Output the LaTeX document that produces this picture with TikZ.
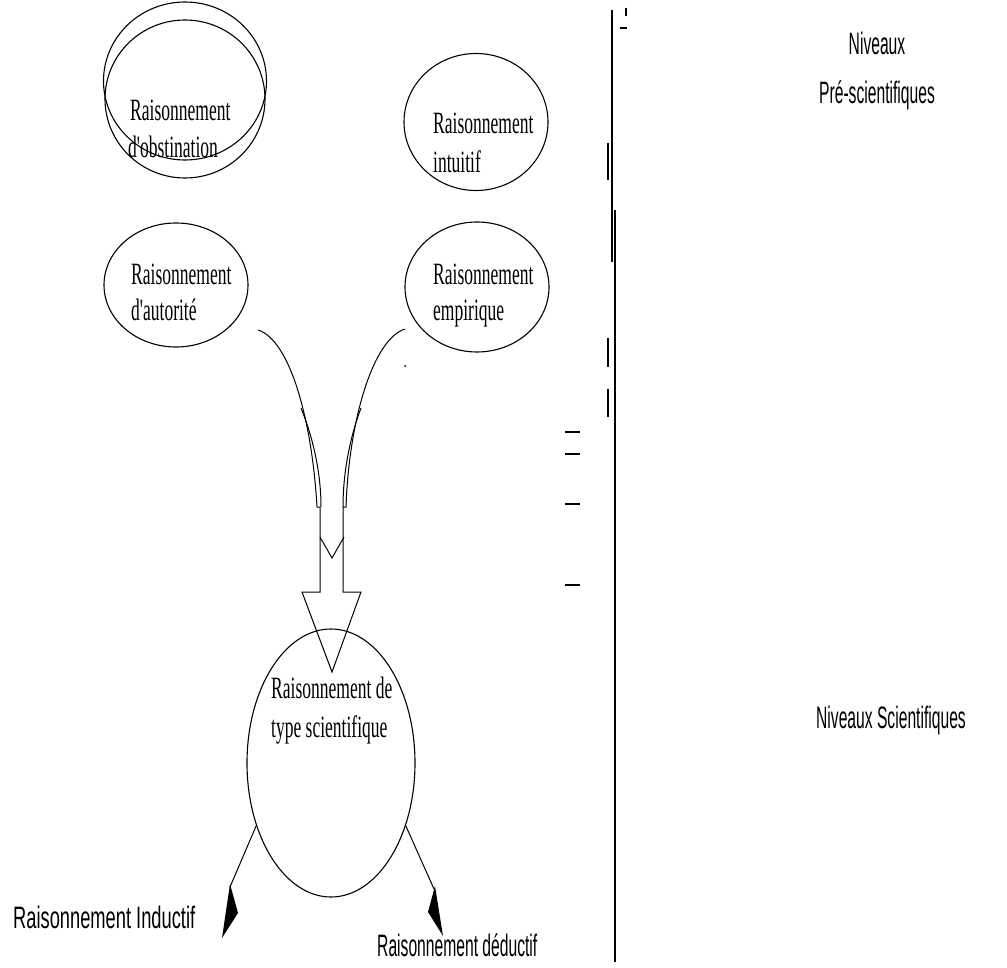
\documentclass[tikz,border=0pt]{standalone}
\usepackage{fontspec}
\usetikzlibrary{shapes.geometric}
\newfontfamily\tnr[FakeStretch=0.565]{Liberation Serif}
\newfontfamily\arl[FakeStretch=0.505]{Liberation Sans}
\newfontfamily\arlw[FakeStretch=0.59]{Liberation Sans}
\begin{document}
\begin{tikzpicture}[x=1pt,y=-1pt,
  ell/.style={draw,ellipse,inner sep=0pt,line width=1.1pt},
  stxt/.style={anchor=base west,inner sep=0pt,font=\tnr\fontsize{31}{36}\selectfont},
  atxt/.style={anchor=base,inner sep=0pt,font=\arl\fontsize{31}{36}\selectfont},
  bar/.style={line width=1.2pt},
  arr/.style={line width=1pt,line join=miter}]
\useasboundingbox (0,0) rectangle (1007,968);
% ellipses
\node[ell,minimum width=163pt,minimum height=158pt] (obA) at (185,81) {};
\node[ell,minimum width=160pt,minimum height=158pt] (obB) at (185,99) {};
\node[ell,minimum width=144pt,minimum height=137pt] (intu) at (476,122) {};
\node[ell,minimum width=144pt,minimum height=124pt] (auto) at (176,285) {};
\node[ell,minimum width=144pt,minimum height=130pt] (empi) at (477,287) {};
\node[ell,minimum width=168pt,minimum height=268pt] (sci) at (331,763) {};
% texts
\node[stxt] (t1a) at (130,121) {Raisonnement};
\node[stxt] (t1b) at (128,158) {d'obstination};
\node[stxt] (t2a) at (433,134) {Raisonnement};
\node[stxt] (t2b) at (433,173) {intuitif};
\node[stxt] (t3a) at (131,285) {Raisonnement};
\node[stxt] (t3b) at (131,321) {d'autorité};
\node[stxt] (t4a) at (433,285) {Raisonnement};
\node[stxt] (t4b) at (433,321) {empirique};
\node[stxt] (t5a) at (271,698) {Raisonnement de};
\node[stxt] (t5b) at (271,737) {type scientifique};
\node[atxt] (n1) at (877,55) {Niveaux};
\node[atxt] (n2) at (877,104) {Pré-scientifiques};
\node[atxt] (n3) at (891,728) {Niveaux Scientifiques};
\node[atxt,anchor=base west,font=\arlw\fontsize{31}{36}\selectfont] (ri) at (13,928) {Raisonnement Inductif};
\node[atxt,anchor=base west] (rd) at (377,956) {Raisonnement déductif};
% big merging arrow
\coordinate (aL) at (258,330);
\coordinate (aR) at (405,329);
\draw[arr] (aL) .. controls (290,340) and (312,420) .. (317,507) -- (320,507)
  -- (320,592) -- (302,592) -- (332,672) -- (361,592) -- (343,592) -- (343,507) -- (346,507)
  .. controls (349,420) and (373,339) .. (aR);
\draw[arr] (301,408) .. controls (314,440) and (321,475) .. (321,507);
\draw[arr] (361,408) .. controls (349,440) and (343,475) .. (343,507);
\draw[arr] (320,537) -- (332,558) -- (344,537);
\fill (405,366) circle (1pt);
% bottom arrows
\coordinate (iL1) at (230,887);
\coordinate (iR1) at (434,889);
\draw[line width=1pt] (sci.220) -- (iL1);
\fill (230,884) -- (238,913) -- (222,938) -- cycle;
\draw[line width=1pt] (sci.320) -- (iR1);
\fill (435,886) -- (428,912) -- (443,936) -- cycle;
% right vertical lines and marks
\draw[bar] (612,10) -- (612,262);
\draw[bar] (615,210) -- (615,962);
\draw[bar] (608,143) -- (608,180);
\draw[bar] (608,338) -- (608,367);
\draw[bar] (608,389) -- (608,417);
\draw[bar] (626,8) -- (626,16);
\draw[bar] (620,28) -- (627,28);
\draw[line width=1.4pt] (565,432) -- (580,432);
\draw[line width=1.4pt] (565,454) -- (580,454);
\draw[line width=1.4pt] (565,504) -- (580,504);
\draw[line width=1.4pt] (565,585) -- (580,585);
\end{tikzpicture}
\end{document}
